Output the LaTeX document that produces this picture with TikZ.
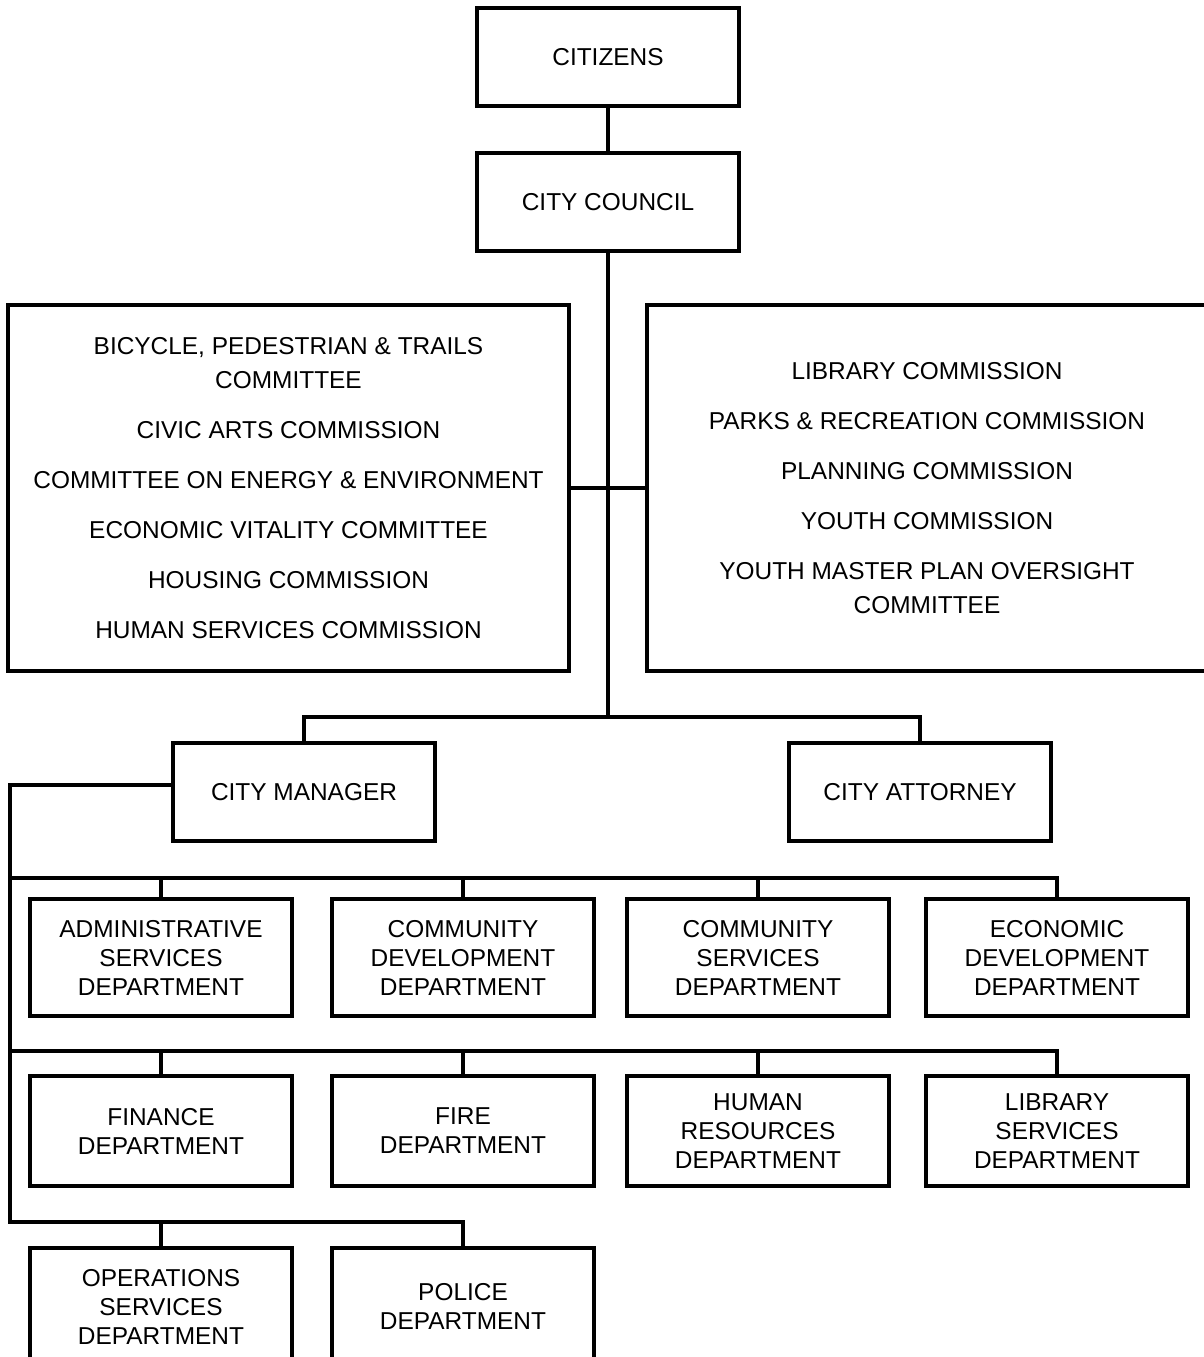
\documentclass[tikz,border=0pt]{standalone}
\usepackage{fontspec}
\setmainfont{Liberation Sans}
\usepackage{tikz}
\usetikzlibrary{positioning}
\newcommand{\deptfont}{\fontsize{13.9}{16.5}\selectfont}
\newcommand{\panelfont}{\fontsize{13.9}{19.3}\selectfont}

\begin{document}
\begin{tikzpicture}[
    office/.style={rectangle, draw=black, line width=2.2pt, minimum width=5.24cm, minimum height=1.96cm, align=center, font=\deptfont},
    panel/.style={rectangle, draw=black, line width=2.2pt, minimum width=11.2cm, minimum height=7.32cm, align=center, font=\panelfont},
    dept/.style={rectangle, draw=black, line width=2.2pt, minimum width=5.24cm, minimum height=2.34cm, align=center, font=\deptfont, inner sep=0pt},
    bus/.style={line width=2.2pt}
]

\useasboundingbox (0,0) rectangle (24.08,-27.14);
\clip (0,0) rectangle (24.08,-27.14);

% Citizens and council - top
\node[office] (citizens) at (12.16, -1.14) {CITIZENS};
\node[office] (council) at (12.16, -4.04) {CITY COUNCIL};

% Commissions
\node[panel, minimum width=11.22cm] (lcomm) at (5.77, -9.76) {BICYCLE, PEDESTRIAN \& TRAILS\\COMMITTEE\\[9.1pt]CIVIC ARTS COMMISSION\\[9.1pt]COMMITTEE ON ENERGY \& ENVIRONMENT\\[9.1pt]ECONOMIC VITALITY COMMITTEE\\[9.1pt]HOUSING COMMISSION\\[9.1pt]HUMAN SERVICES COMMISSION};
\node[panel] (rcomm) at (18.54, -9.76) {LIBRARY COMMISSION\\[9.1pt]PARKS \& RECREATION COMMISSION\\[9.1pt]PLANNING COMMISSION\\[9.1pt]YOUTH COMMISSION\\[9.1pt]YOUTH MASTER PLAN OVERSIGHT\\COMMITTEE};

% Officers
\node[office] (mgr) at (6.08, -15.84) {CITY MANAGER};
\node[office] (att) at (18.4, -15.84) {CITY ATTORNEY};

% Departments
\node[dept] (admin) at (3.22, -19.15) {ADMINISTRATIVE\\SERVICES\\DEPARTMENT};
\node[dept] (comdev) at (9.26, -19.15) {COMMUNITY\\DEVELOPMENT\\DEPARTMENT};
\node[dept] (comserv) at (15.16, -19.15) {COMMUNITY\\SERVICES\\DEPARTMENT};
\node[dept] (ecodev) at (21.14, -19.15) {ECONOMIC\\DEVELOPMENT\\DEPARTMENT};

\node[dept, minimum height=2.2cm] (finance) at (3.22, -22.62) {FINANCE\\DEPARTMENT};
\node[dept, minimum height=2.2cm] (fire) at (9.26, -22.62) {FIRE\\DEPARTMENT};
\node[dept, minimum height=2.2cm] (hr) at (15.16, -22.62) {HUMAN\\RESOURCES\\DEPARTMENT};
\node[dept, minimum height=2.2cm] (libserv) at (21.14, -22.62) {LIBRARY\\SERVICES\\DEPARTMENT};

\node[dept] (ops) at (3.22, -26.13) {OPERATIONS\\SERVICES\\DEPARTMENT};
\node[dept] (police) at (9.26, -26.13) {POLICE\\DEPARTMENT};

% Bus points
\coordinate (split) at (12.16, -14.34);
\coordinate (row1) at (0.2, -17.56);
\coordinate (row2) at (0.2, -21.02);
\coordinate (row3) at (0.2, -24.44);

% Council lines
\draw[bus] (citizens) -- (council);
\draw[bus] (council) -- (split);
\draw[bus] (lcomm.east) -- (rcomm.west);
\draw[bus] (mgr.north) |- (split) -| (att.north);

% Manager bus
\draw[bus] ([yshift=0.14cm]mgr.west) -| (row3) -| (police.north);
\draw[bus] (row1) -| (ecodev.north);
\draw[bus] (row2) -| (libserv.north);
\foreach \d in {admin, comdev, comserv}
    \draw[bus] (\d.north) -- (\d.north |- row1);
\foreach \d in {finance, fire, hr}
    \draw[bus] (\d.north) -- (\d.north |- row2);
\draw[bus] (ops.north) -- (ops.north |- row3);

\end{tikzpicture}
\end{document}
